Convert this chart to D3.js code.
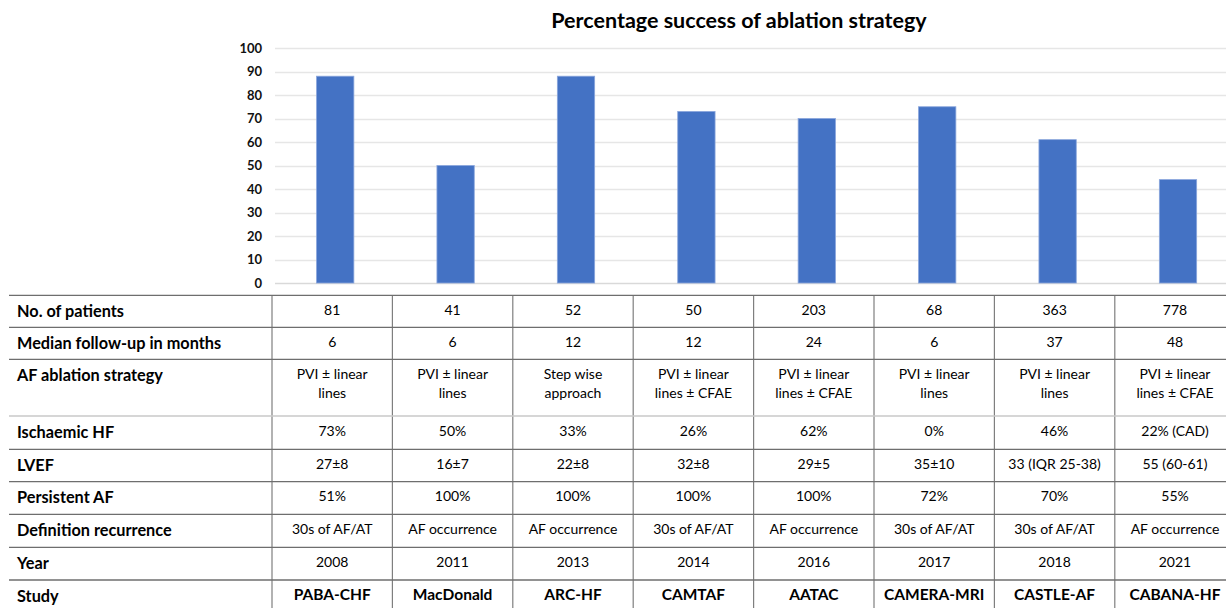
<!DOCTYPE html>
<html>
<head>
<meta charset="utf-8">
<script src="https://cdn.jsdelivr.net/npm/d3@7"></script>
<style>
	body { margin: 0; background: #fff; }
	text { font-family: Lato, "Open Sans", sans-serif; }
</style>
</head>
<body>
<div id="chart"></div>
<script>
// Data

var studies = ["PABA-CHF", "MacDonald", "ARC-HF", "CAMTAF", "AATAC", "CAMERA-MRI", "CASTLE-AF", "CABANA-HF"];
var success = [88, 50, 88, 73, 70, 75, 61, 44];
var yTicks = [0, 10, 20, 30, 40, 50, 60, 70, 80, 90, 100];

var rowLabels = ["No. of patients", "Median follow-up in months", "AF ablation strategy", "Ischaemic HF",
	"LVEF", "Persistent AF", "Definition recurrence", "Year", "Study"];
var patients = ["81", "41", "52", "50", "203", "68", "363", "778"];
var followUp = ["6", "6", "12", "12", "24", "6", "37", "48"];
var strategy = [["PVI \u00b1 linear", "lines"], ["PVI \u00b1 linear", "lines"], ["Step wise", "approach"],
	["PVI \u00b1 linear", "lines \u00b1 CFAE"], ["PVI \u00b1 linear", "lines \u00b1 CFAE"], ["PVI \u00b1 linear", "lines"],
	["PVI \u00b1 linear", "lines"], ["PVI \u00b1 linear", "lines \u00b1 CFAE"]];
var ischaemic = ["73%", "50%", "33%", "26%", "62%", "0%", "46%", "22% (CAD)"];
var lvef = ["27\u00b18", "16\u00b17", "22\u00b18", "32\u00b18", "29\u00b15", "35\u00b110", "33 (IQR 25-38)", "55 (60-61)"];
var persistent = ["51%", "100%", "100%", "100%", "100%", "72%", "70%", "55%"];
var recurrence = ["30s of AF/AT", "AF occurrence", "AF occurrence", "30s of AF/AT", "AF occurrence",
	"30s of AF/AT", "30s of AF/AT", "AF occurrence"];
var years = ["2008", "2011", "2013", "2014", "2016", "2017", "2018", "2021"];

// Globals

var width = 1226;
var height = 608;
var svg = d3.select("#chart")
	.append("svg")
	.attr("width", width)
	.attr("height", height);

var plot = {l: 275, r: 1226, t: 48, b: 283};
var colW = 120.4;
var tableL = 9, tableX0 = 272;

var xAxis = d3.scaleBand()
	.domain(studies)
	.range([plot.l, plot.l + colW * studies.length])
	.paddingInner(0.69)
	.paddingOuter(0.345);

var yAxis = d3.scaleLinear()
	.domain([0, 100])
	.range([plot.b, plot.t]);

// Title
svg.append("text")
	.attr("x", 739)
	.attr("y", 28)
	.attr("text-anchor", "middle")
	.style("font-size", "21.5px")
	.style("font-weight", "bold")
	.style("fill", "#000")
	.text("Percentage success of ablation strategy");

// Grid + y labels
svg.append("g")
	.selectAll("line")
	.data(yTicks)
	.enter().append("line")
		.attr("x1", plot.l)
		.attr("x2", plot.r)
		.attr("y1", function(d) { return Math.round(yAxis(d)) + 0.5; })
		.attr("y2", function(d) { return Math.round(yAxis(d)) + 0.5; })
		.style("stroke", function(d) { return d == 0 ? "#d9d9d9" : "#e6e6e6"; })
		.style("stroke-width", 1.3);

svg.append("g")
	.selectAll("text")
	.data(yTicks)
	.enter().append("text")
		.attr("x", 262)
		.attr("y", function(d) { return yAxis(d) + 4.5; })
		.attr("text-anchor", "end")
		.style("font-size", "13px")
		.style("font-weight", "bold")
		.style("fill", "#111")
		.text(function(d) { return d; });

// Bars
svg.selectAll(".bar")
	.data(success)
	.enter().append("rect")
		.attr("class", "bar")
		.attr("x", function(d, i) { return xAxis(studies[i]); })
		.attr("y", function(d) { return yAxis(d); })
		.attr("width", xAxis.bandwidth())
		.attr("height", function(d) { return yAxis(0) - yAxis(d); })
		.style("fill", "#4472c4")
		.style("stroke", "#8aa6dc")
		.style("stroke-width", 0.8);

// Table
var rowData = [patients, followUp, strategy, ischaemic, lvef, persistent, recurrence, years, studies];
var rowHeights = [32, 32, 56.7, 33.3, 32.4, 32.6, 33, 32.7, 32.7];
var rowTops = [];
var yy = 295.3;
rowHeights.forEach(function(h) { rowTops.push(yy); yy += h; });
var lineYs = rowTops.concat([yy]);

var table = svg.append("g");

// vertical lines
table.selectAll(".vline")
	.data(d3.range(studies.length))
	.enter().append("line")
		.attr("class", "vline")
		.attr("x1", function(i) { return tableX0 + i * colW; })
		.attr("x2", function(i) { return tableX0 + i * colW; })
		.attr("y1", lineYs[0])
		.attr("y2", height)
		.style("stroke", "#7f7f7f")
		.style("stroke-width", 1.2);

// horizontal lines
table.selectAll(".hline")
	.data(lineYs)
	.enter().append("line")
		.attr("class", "hline")
		.attr("x1", tableL)
		.attr("x2", width)
		.attr("y1", function(d) { return d; })
		.attr("y2", function(d) { return d; })
		.style("stroke", function(d, i) { return i == 3 ? "#c8c8c8" : "#6e6e6e"; })
		.style("stroke-width", 1.3);

// row labels
table.selectAll(".rlab")
	.data(rowLabels)
	.enter().append("text")
		.attr("class", "rlab")
		.attr("x", 17)
		.attr("y", function(d, i) { return rowTops[i] + 21.5; })
		.style("font-size", "16.3px")
		.style("font-weight", "bold")
		.style("fill", "#000")
		.text(function(d) { return d; });

// cells
rowData.forEach(function(vals, r) {
	vals.forEach(function(v, c) {
		var cx = tableX0 + c * colW + colW / 2;
		var lines = Array.isArray(v) ? v : [v];
		var t = table.append("text")
			.attr("x", cx)
			.attr("y", rowTops[r] + 19.5)
			.attr("text-anchor", "middle")
			.style("font-size", r == 8 ? "15.5px" : "14px")
			.style("font-weight", r == 8 ? "bold" : "normal")
			.style("fill", "#000");
		lines.forEach(function(s, k) {
			t.append("tspan")
				.attr("x", cx)
				.attr("dy", k == 0 ? 0 : 19)
				.text(s);
		});
	});
});
</script>
</body>
</html>
